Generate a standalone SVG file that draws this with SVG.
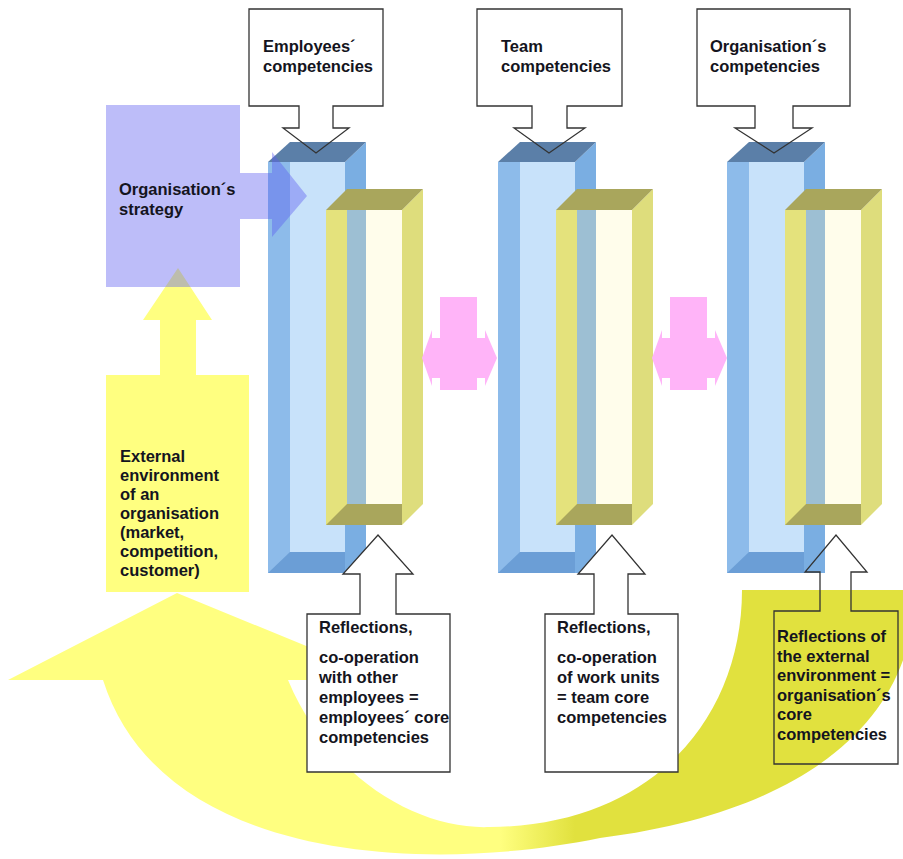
<svg xmlns="http://www.w3.org/2000/svg" width="903" height="859" viewBox="0 0 903 859">
  <style>
    .t { font-family: "Liberation Sans", Arial, sans-serif; font-weight: bold; font-size: 16.5px; fill: #141420; }
    .callout { fill: none; stroke: #333; stroke-width: 1.3; }
    .callout-w { fill: #fff; stroke: #333; stroke-width: 1.3; }
    .b-top { fill: #5b7fa8; }
    .b-left { fill: #8dbbea; }
    .b-in { fill: #c8e2fa; }
    .b-right { fill: #7aaee2; }
    .b-bot { fill: #6b9ed6; }
    .y-top { fill: #a9a65c; }
    .y-left { fill: #e4e27c; }
    .y-in { fill: #fffdeb; }
    .y-right { fill: #dedd7c; }
    .y-mix { fill: #9dbfd3; }
    .pink { fill: #ffb4f8; }
  </style>
  <defs>
    <linearGradient id="bandShade" gradientUnits="userSpaceOnUse" x1="500" y1="0" x2="575" y2="0">
      <stop offset="0" stop-color="#ffff80"/>
      <stop offset="1" stop-color="#e1e13e"/>
    </linearGradient>
    <!-- one pillar: blue hollow box with the yellow box in front -->
    <g id="pillar">
      <rect class="b-left" x="268" y="162" width="77" height="411"/>
      <rect class="b-in" x="290" y="162" width="55" height="390"/>
      <polygon class="b-bot" points="268,573 290,552 345,552 345,573"/>
      <polygon class="b-right" points="345,162 366,142 366,573 345,573"/>
      <polygon class="b-top" points="268,162 290,142 366,142 345,162"/>
      <rect class="y-left" x="326" y="210" width="76" height="315"/>
      <rect class="y-in" x="347" y="210" width="55" height="294"/>
      <rect class="y-mix" x="347" y="210" width="19" height="294"/>
      <polygon class="y-top" points="326,525 347,504 402,504 402,525"/>
      <polygon class="y-right" points="402,210 423,189 423,504 402,525"/>
      <polygon class="y-top" points="326,210 347,189 423,189 402,210"/>
    </g>
    <path id="dblArrow" class="pink" d="M440,297 H477 V338 H485 V330 L497,358 L485,386 V378 H477 V390 H440 V378 H432 V386 L422,358 L432,330 V338 H440 Z"/>
  </defs>

  <!-- large curved return arrow from the environment back to the strategy side -->
  <g id="feedback-arrow">
    <path fill="url(#bandShade)" d="M177,593 L389,680 L288,680 C330,780 420,830 490,827 C650,826 742,720 742,590 L915,590 C915,710 820,810 600,838 C420,875 160,860 103,680 L8,680 Z"/>
  </g>

  <g id="environment">
    <path fill="#ffff80" d="M178,268 L212,320 H196 V376 H160 V320 H143 Z"/>
    <rect x="106" y="375" width="143" height="217" fill="#ffff80"/>
    <text class="t" x="120" y="462">External</text>
    <text class="t" x="120" y="481">environment</text>
    <text class="t" x="120" y="500">of an</text>
    <text class="t" x="120" y="519">organisation</text>
    <text class="t" x="120" y="538">(market,</text>
    <text class="t" x="120" y="557">competition,</text>
    <text class="t" x="120" y="576">customer)</text>
  </g>

  <g id="pillars">
    <use href="#pillar"/>
    <use href="#pillar" x="230"/>
    <use href="#pillar" x="459"/>
  </g>

  <g id="strategy">
    <path fill="#5a5af0" fill-opacity="0.4" d="M106,105 H240 V173 H272 V152 L307,196 L272,237 V219 H240 V287 H106 Z"/>
    <text class="t" x="119" y="195">Organisation´s</text>
    <text class="t" x="119" y="215">strategy</text>
  </g>

  <g id="connectors">
    <use href="#dblArrow"/>
    <use href="#dblArrow" x="230"/>
  </g>

  <g id="employees-competencies">
    <path class="callout" d="M249,9 H383 V106 H333 V128 H349 L316,153 L283,128 H299 V106 H249 Z"/>
    <text class="t" x="263" y="52">Employees´</text>
    <text class="t" x="263" y="72">competencies</text>
  </g>
  <g id="team-competencies">
    <path class="callout" d="M477,9 H622 V106 H567 V128 H585 L549,153 L514,128 H532 V106 H477 Z"/>
    <text class="t" x="501" y="52">Team</text>
    <text class="t" x="501" y="72">competencies</text>
  </g>
  <g id="organisation-competencies">
    <path class="callout" d="M697,9 H850 V106 H793 V128 H812 L774,153 L735,128 H755 V106 H697 Z"/>
    <text class="t" x="710" y="52">Organisation´s</text>
    <text class="t" x="710" y="72">competencies</text>
  </g>

  <g id="employees-core">
    <path class="callout-w" d="M307,614 H360 V574 H343 L378,535 L413,574 H396 V614 H450 V772 H307 Z"/>
    <text class="t" x="319" y="633">Reflections,</text>
    <text class="t" x="319" y="663">co-operation</text>
    <text class="t" x="319" y="683">with other</text>
    <text class="t" x="319" y="703">employees =</text>
    <text class="t" x="319" y="723">employees´ core</text>
    <text class="t" x="319" y="743">competencies</text>
  </g>
  <g id="team-core">
    <path class="callout-w" d="M545,614 H594 V574 H578 L612,535 L645,574 H628 V614 H678 V772 H545 Z"/>
    <text class="t" x="557" y="633">Reflections,</text>
    <text class="t" x="557" y="663">co-operation</text>
    <text class="t" x="557" y="683">of work units</text>
    <text class="t" x="557" y="703">= team core</text>
    <text class="t" x="557" y="723">competencies</text>
  </g>
  <g id="organisation-core">
    <path class="callout" d="M774,611 H820 V572 H805 L836,535 L867,572 H851 V611 H898 V764 H774 Z"/>
    <text class="t" x="777" y="642">Reflections of</text>
    <text class="t" x="777" y="662">the external</text>
    <text class="t" x="777" y="681">environment =</text>
    <text class="t" x="777" y="701">organisation´s</text>
    <text class="t" x="777" y="720">core</text>
    <text class="t" x="777" y="740">competencies</text>
  </g>
</svg>
